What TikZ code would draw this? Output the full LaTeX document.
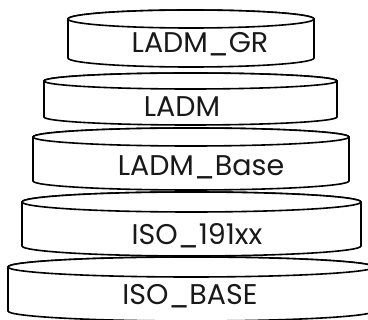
\documentclass[tikz,border=0pt]{standalone}
\usepackage{fontspec}
\setmainfont{Poppins}
\newcommand{\diskshape}[5]{% cx, rx, ytop, ybot, ry
  \filldraw[diskline] ({#1-#2},#3) -- ({#1-#2},#4)
    arc[start angle=180,end angle=0,x radius=#2,y radius=#5]
    -- ({#1+#2},#3)
    arc[start angle=0,end angle=-180,x radius=#2,y radius=#5] -- cycle;
  \draw[diskline] (#1,#3) ellipse[x radius=#2,y radius=#5];
}
\tikzset{
  diskline/.style={line width=1.6pt,fill=white,draw=black},
  disklabel/.style={font=\fontsize{28.5}{30}\selectfont,inner sep=0pt,text=black!90}
}
\begin{document}
\begin{tikzpicture}[x=1pt,y=-1pt]
\useasboundingbox (0,0) rectangle (368,320);
\diskshape{191}{183}{267}{311}{10}
\diskshape{191.5}{169.5}{202}{246}{10}
\diskshape{191}{158}{137}{181}{9}
\diskshape{190.5}{146.5}{81}{117}{8}
\diskshape{191}{123}{19}{58}{9}
\node[disklabel] (gr) at (200,44) {LADM\_GR};
\node[disklabel] (ladm) at (182,107) {LADM};
\node[disklabel] (base) at (201,167) {LADM\_Base};
\node[disklabel] (iso) at (197,236) {ISO\_191xx};
\node[disklabel] (isobase) at (190,296) {ISO\_BASE};
\end{tikzpicture}
\end{document}
